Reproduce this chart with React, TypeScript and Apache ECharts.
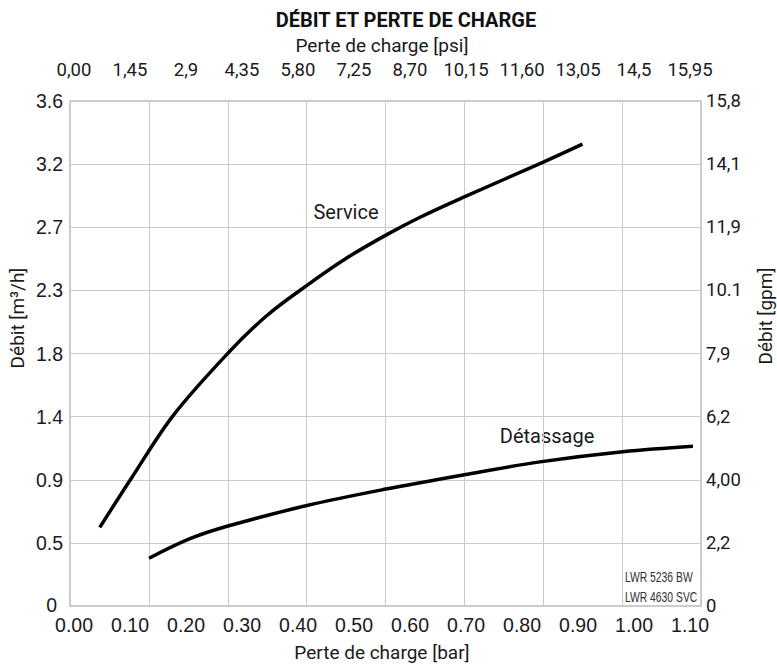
import React, { useEffect, useRef } from "react";
import * as echarts from "echarts";

// ---- data ----
const bottomLabels = ["0.00", "0.10", "0.20", "0.30", "0.40", "0.50", "0.60", "0.70", "0.80", "0.90", "1.00", "1.10"];
const psiLabels = ["0,00", "1,45", "2,9", "4,35", "5,80", "7,25", "8,70", "10,15", "11,60", "13,05", "14,5", "15,95"];
const leftLabels = ["0", "0.5", "0.9", "1.4", "1.8", "2.3", "2.7", "3.2", "3.6"];
const rightLabels = ["0", "2,2", "4,00", "6,2", "7,9", "10.1", "11,9", "14,1", "15,8"];

// Perte de charge [bar] vs Débit [m³/h]
const serviceX = [0.046, 0.103, 0.177, 0.276, 0.344, 0.416, 0.487, 0.557, 0.618, 0.697, 0.838, 0.908];
const serviceY = [0.542, 0.898, 1.344, 1.796, 2.06, 2.278, 2.474, 2.638, 2.766, 2.912, 3.162, 3.291];
const detassageX = [0.134, 0.207, 0.275, 0.416, 0.557, 0.697, 0.832, 0.98, 1.12];
const detassageY = [0.321, 0.461, 0.552, 0.699, 0.817, 0.92, 1.012, 1.085, 1.128];

const TEXT = "#1a1a1a";
const DIN = "Roboto, 'DejaVu Sans', sans-serif";
const ARIAL = "'Liberation Sans', Arial, sans-serif";

export default function App() {
  const ref = useRef<HTMLDivElement>(null);

  useEffect(() => {
    if (!ref.current) return;
    const chart = echarts.init(ref.current, undefined, { renderer: "svg" });
    const zip = (xs: number[], ys: number[]) => xs.map((x, i) => [x, ys[i]]);

    chart.setOption({
      animation: false,
      backgroundColor: "#ffffff",
      grid: [
        {
          left: 70, right: 76, top: 101, bottom: 61,
          show: true, borderColor: "#bdbdbd", borderWidth: 1.5, backgroundColor: "transparent",
        },
        { left: 74, right: 87, top: 101, bottom: 61 },
      ],
      xAxis: [
        {
          gridIndex: 0, type: "value", min: 0, max: 8, interval: 1,
          axisLabel: { show: false }, axisTick: { show: false }, axisLine: { show: false },
          splitLine: { show: true, lineStyle: { color: "#cacaca", width: 1 } },
        },
        {
          gridIndex: 1, type: "value", position: "bottom", min: 0, max: 1.1, interval: 0.1,
          axisLabel: {
            formatter: (v: number) => bottomLabels[Math.round(v / 0.1)] ?? "",
            fontFamily: ARIAL, fontSize: 19.5, color: TEXT, margin: 12,
          },
          axisLine: { show: false }, axisTick: { show: false }, splitLine: { show: false },
          name: "Perte de charge [bar]", nameLocation: "middle", nameGap: 40,
          nameTextStyle: { fontFamily: DIN, fontSize: 19, color: TEXT },
        },
        {
          gridIndex: 1, type: "value", position: "top", min: 0, max: 1.1, interval: 0.1,
          axisLabel: {
            formatter: (v: number) => psiLabels[Math.round(v / 0.1)] ?? "",
            fontFamily: DIN, fontSize: 18.5, color: TEXT, margin: 22,
          },
          axisLine: { show: false }, axisTick: { show: false }, splitLine: { show: false },
          name: "Perte de charge [psi]", nameLocation: "middle", nameGap: 44,
          nameTextStyle: { fontFamily: DIN, fontSize: 19, color: TEXT },
        },
      ],
      yAxis: [
        {
          gridIndex: 0, type: "value", position: "left", min: 0, max: 3.6, interval: 0.45,
          axisLabel: {
            formatter: (v: number) => {
              const i = Math.round(v / 0.45);
              return i === 0 ? "{z|" + leftLabels[0] + "}" : leftLabels[i] ?? "";
            },
            fontFamily: ARIAL, fontSize: 19.5, color: TEXT, margin: 7,
            rich: { z: { fontFamily: ARIAL, fontSize: 19.5, color: TEXT, padding: [0, 6, 2, 0] } },
          },
          axisLine: { show: false }, axisTick: { show: false },
          splitLine: { show: true, lineStyle: { color: "#cacaca", width: 1 } },
        },
        {
          gridIndex: 0, type: "value", position: "right", min: 0, max: 15.8, interval: 1.975,
          axisLabel: {
            formatter: (v: number) => rightLabels[Math.round(v / 1.975)] ?? "",
            fontFamily: DIN, fontSize: 18.5, color: TEXT, margin: 5,
          },
          axisLine: { show: false }, axisTick: { show: false }, splitLine: { show: false },
        },
        { gridIndex: 1, type: "value", min: 0, max: 3.6, show: false },
      ],
      series: [
        {
          name: "Service", type: "line", xAxisIndex: 1, yAxisIndex: 2,
          data: zip(serviceX, serviceY), symbol: "none", smooth: 0.35, clip: false,
          lineStyle: { color: "#000", width: 3.5 },
        },
        {
          name: "Détassage", type: "line", xAxisIndex: 1, yAxisIndex: 2,
          data: zip(detassageX, detassageY), symbol: "none", smooth: 0.35, clip: false,
          lineStyle: { color: "#000", width: 3.5 },
        },
      ],
      graphic: [
        {
          type: "text", x: 406, y: 20,
          style: { text: "DÉBIT ET PERTE DE CHARGE", align: "center", verticalAlign: "middle", fontFamily: DIN, fontWeight: "bold", fontSize: 20, fill: "#111" },
        },
        {
          type: "text", x: 17, y: 318, rotation: Math.PI / 2,
          style: { text: "Débit [m³/h]", align: "center", verticalAlign: "middle", fontFamily: DIN, fontSize: 19, fill: TEXT },
        },
        {
          type: "text", x: 765, y: 316, rotation: Math.PI / 2,
          style: { text: "Débit [gpm]", align: "center", verticalAlign: "middle", fontFamily: DIN, fontSize: 19, fill: TEXT },
        },
        {
          type: "text", x: 346, y: 211.5,
          style: { text: "Service", align: "center", verticalAlign: "middle", fontFamily: DIN, fontSize: 20, fill: TEXT },
        },
        {
          type: "text", x: 547, y: 436,
          style: { text: "Détassage", align: "center", verticalAlign: "middle", fontFamily: DIN, fontSize: 20, fill: TEXT },
        },
        {
          type: "text", x: 625, y: 577, scaleX: 0.74,
          style: { text: "LWR 5236 BW", align: "left", verticalAlign: "middle", fontFamily: ARIAL, fontSize: 14, fill: "#333" },
        },
        {
          type: "text", x: 625, y: 597, scaleX: 0.74,
          style: { text: "LWR 4630 SVC", align: "left", verticalAlign: "middle", fontFamily: ARIAL, fontSize: 14, fill: "#333" },
        },
      ],
    });

    return () => chart.dispose();
  }, []);

  return (
    <div
      ref={ref}
      style={{ position: "fixed", left: 0, top: 0, width: 777, height: 667, background: "#fff" }}
    />
  );
}
